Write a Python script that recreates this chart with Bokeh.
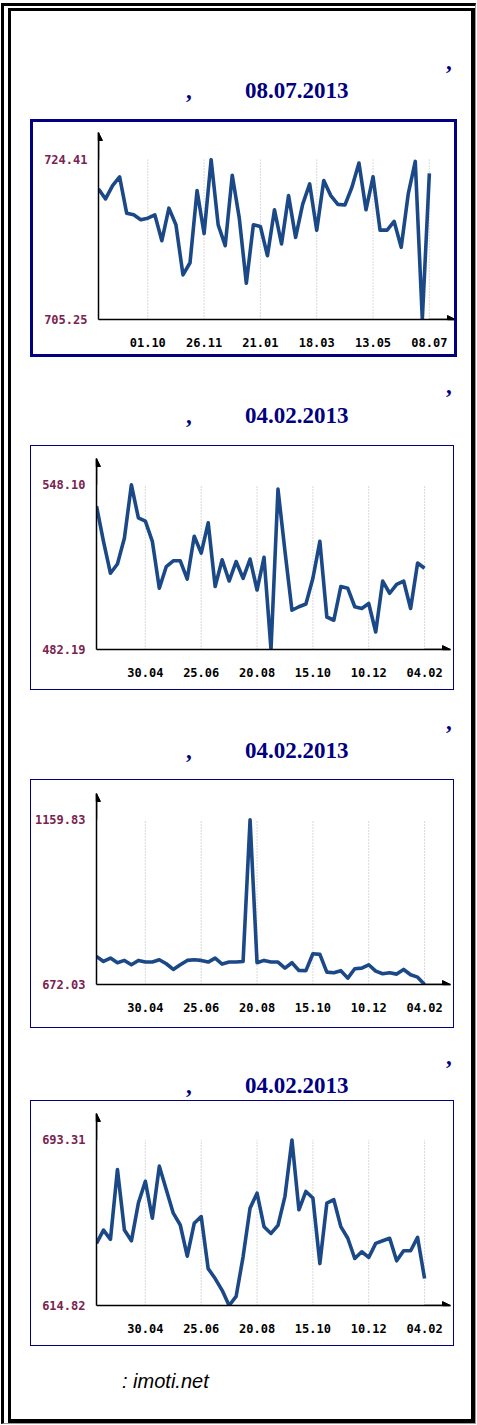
import pandas as pd
from bokeh.plotting import figure
from bokeh.models import Range1d, FixedTicker, PrintfTickFormatter, DatetimeTickFormatter, Label, Arrow, NormalHead, Div
from bokeh.layouts import column
from bokeh.embed import file_html
from bokeh.resources import INLINE

# ---------------- data ----------------
heading_dates = ["08.07.2013", "04.02.2013", "04.02.2013", "04.02.2013"]
source_text = ": imoti.net"
y_unit = "EUR"

start_1 = "2012-08-13"
start_2 = "2012-03-12"

ticks_1 = ["01.10.2012", "26.11.2012", "21.01.2013", "18.03.2013", "13.05.2013", "08.07.2013"]
ticks_2 = ["30.04.2012", "25.06.2012", "20.08.2012", "15.10.2012", "10.12.2012", "04.02.2013"]

values_1 = [720.9, 719.7, 721.3, 722.35, 718.0, 717.8, 717.2, 717.4, 717.8, 714.7,
            718.6, 716.6, 710.6, 712.05, 720.7, 715.55, 724.41, 716.6, 714.1, 722.55,
            717.4, 709.6, 716.6, 716.4, 712.9, 718.4, 714.3, 720.1, 715.1, 719.05,
            721.5, 715.96, 721.9, 720.1, 719.05, 718.97, 721.1, 724.0, 718.4, 722.35,
            715.96, 715.96, 717.0, 713.9, 720.3, 724.2, 705.25, 722.76]

values_2 = [539.6, 525.5, 512.7, 516.4, 526.8, 548.10, 534.9, 533.6, 525.5, 506.7,
            515.4, 517.7, 517.7, 510.4, 527.5, 520.8, 532.9, 507.4, 518.1, 509.6,
            517.4, 510.7, 518.4, 506.0, 519.1, 482.19, 546.4, 521.5, 497.9, 499.3,
            500.4, 510.7, 525.5, 495.2, 493.9, 507.4, 506.7, 499.3, 498.6, 500.6,
            489.2, 509.6, 504.7, 508.3, 509.6, 498.6, 516.8, 514.7]

values_3 = [755.3, 740.4, 750.3, 736.5, 743.4, 730.5, 743.4, 738.5, 738.5, 745.4,
            733.5, 716.6, 730.5, 743.4, 745.4, 743.4, 738.5, 750.3, 732.5, 738.5,
            738.5, 740.4, 1159.83, 736.5, 743.4, 738.5, 738.5, 720.6, 736.5, 713.7,
            713.0, 763.2, 761.3, 708.7, 706.7, 713.0, 690.9, 718.6, 720.6, 730.5,
            711.7, 703.8, 706.7, 702.8, 716.6, 700.8, 693.8, 672.03]

values_4 = [644.3, 650.6, 646.2, 679.3, 650.6, 645.5, 663.4, 673.7, 656.2, 680.9,
            669.7, 658.6, 653.0, 638.2, 653.8, 657.0, 632.3, 627.6, 622.0, 614.82,
            619.1, 637.9, 661.0, 668.1, 652.2, 649.0, 652.8, 666.6, 693.31, 660.2,
            668.9, 665.8, 634.7, 663.4, 665.0, 652.2, 646.7, 637.1, 640.3, 637.6,
            644.3, 645.5, 646.7, 636.0, 640.8, 640.8, 647.1, 627.6]

# ---------------- styles ----------------
NAVY = "#000080"
LINE = "#1b4987"
MAROON = "#7b2350"
MONO = "DejaVu Sans Mono"
CONTENT_W = 460


def chart(values, start, tick_strs, width, height, left, right, top, bottom, pad, border):
    dates = pd.date_range(start, periods=len(values), freq="7D")
    tdates = pd.to_datetime(tick_strs, format="%d.%m.%Y")
    ymin, ymax = min(values), max(values)
    yend = ymax + pad * (ymax - ymin)
    x0 = dates[0]
    x1 = dates[-1] + pd.Timedelta(days=26)
    p = figure(width=width, height=height, x_axis_type="datetime",
               output_backend="svg", toolbar_location=None,
               x_range=Range1d(x0, x1), y_range=Range1d(ymin, yend),
               min_border_left=left, min_border_right=right,
               min_border_top=top, min_border_bottom=bottom,
               background_fill_color="white", border_fill_color="white",
               styles={"border": border})
    p.margin = (0, 0, 0, 19)
    p.outline_line_color = None
    p.xgrid.visible = False
    p.ygrid.visible = False

    n = len(tdates)
    p.segment(x0=tdates, y0=[ymin] * n, x1=tdates, y1=[ymax] * n,
              line_color="#b4b4b4", line_dash="1 2", line_width=1)
    p.line(dates, values, line_color=LINE, line_width=3.6, line_join="round")

    xa = p.xaxis[0]
    xa.ticker = FixedTicker(ticks=[t.value / 1e6 for t in tdates])
    fmt = "%d.%m"
    xa.formatter = DatetimeTickFormatter(days=fmt, months=fmt, years=fmt, hours=fmt,
                                         minutes=fmt, seconds=fmt, milliseconds=fmt,
                                         minsec=fmt, hourmin=fmt)
    ya = p.yaxis[0]
    ya.ticker = FixedTicker(ticks=[ymin, ymax])
    ya.formatter = PrintfTickFormatter(format="%.2f")
    for ax in (xa, ya):
        ax.axis_line_color = "black"
        ax.axis_line_width = 1.5
        ax.major_tick_line_color = None
        ax.minor_tick_line_color = None
        ax.major_label_text_font = MONO
        ax.major_label_text_font_size = "12px"
        ax.major_label_text_font_style = "bold"
    xa.major_label_text_color = "black"
    xa.major_label_standoff = 12
    ya.major_label_text_color = MAROON
    ya.major_label_standoff = 5

    xs = x0.value / 1e6
    xe = x1.value / 1e6
    xl = dates[-1].value / 1e6
    p.add_layout(Arrow(end=NormalHead(size=8, fill_color="black", line_color="black"),
                       x_start=xs, y_start=ymax, x_end=xs, y_end=yend,
                       line_color="black", line_width=1.5))
    p.add_layout(Arrow(end=NormalHead(size=8, fill_color="black", line_color="black"),
                       x_start=xl, y_start=ymin, x_end=xe, y_end=ymin,
                       line_color="black", line_width=1.5))
    p.add_layout(Label(x=xs, y=(ymin + ymax) / 2, x_offset=-46, text=y_unit,
                       text_font=MONO, text_font_size="12px", text_font_style="bold",
                       text_color="black", text_align="left", text_baseline="middle"))
    return p


def heading(date_text, height, comma_top, date_top):
    font = "font-family:'Liberation Serif',serif;font-weight:bold;font-size:23px;line-height:23px;color:%s;" % NAVY
    html = (
        f'<div style="position:relative;width:{CONTENT_W}px;height:{height}px;{font}">'
        f'<span style="position:absolute;left:435px;top:{comma_top}px;">,</span>'
        f'<span style="position:absolute;left:175px;top:{date_top}px;">,</span>'
        f'<span style="position:absolute;left:234px;top:{date_top}px;">{date_text}</span>'
        f'</div>'
    )
    return Div(text=html, width=CONTENT_W, height=height, margin=(0, 0, 0, 0))


def footer(height):
    html = (
        f'<div style="position:relative;width:{CONTENT_W}px;height:{height}px;">'
        f'<span style="position:absolute;left:111px;top:25px;font-family:\'Liberation Sans\',sans-serif;'
        f'font-style:italic;font-size:20px;line-height:20px;color:black;">{source_text}</span>'
        f'</div>'
    )
    return Div(text=html, width=CONTENT_W, height=height, margin=(0, 0, 0, 0))


# chart canvases include their own border (border-box)
c1 = chart(values_1, start_1, ticks_1, 427, 238, 59, 4, 10, 41, 0.17, "3px solid %s" % NAVY)
c2 = chart(values_2, start_2, ticks_2, 424, 245, 61, 5, 12, 42, 0.16, "1px solid %s" % NAVY)
c3 = chart(values_3, start_2, ticks_2, 424, 249, 61, 5, 13, 45, 0.16, "1px solid %s" % NAVY)
c4 = chart(values_4, start_2, ticks_2, 424, 246, 61, 5, 12, 42, 0.16, "1px solid %s" % NAVY)

inner = column(
    heading(heading_dates[0], 108, 39, 68), c1,
    heading(heading_dates[1], 88, 17, 47), c2,
    heading(heading_dates[2], 89, 20, 49), c3,
    heading(heading_dates[3], 72, 17, 46), c4,
    footer(73),
    spacing=0,
    margin=(2, 0, 0, 4),
    styles={"border-style": "solid", "border-color": "#000",
            "border-width": "3px 4px 4px 3px", "background-color": "white"},
)

page = column(
    inner,
    spacing=0,
    margin=(3, 0, 0, 1),
    styles={"border-style": "solid", "border-color": "#000 #9a9a9a #9a9a9a #000",
            "border-width": "3px 1px 1px 3px", "background-color": "white"},
)

open("out.html", "w").write(file_html(page, INLINE))
